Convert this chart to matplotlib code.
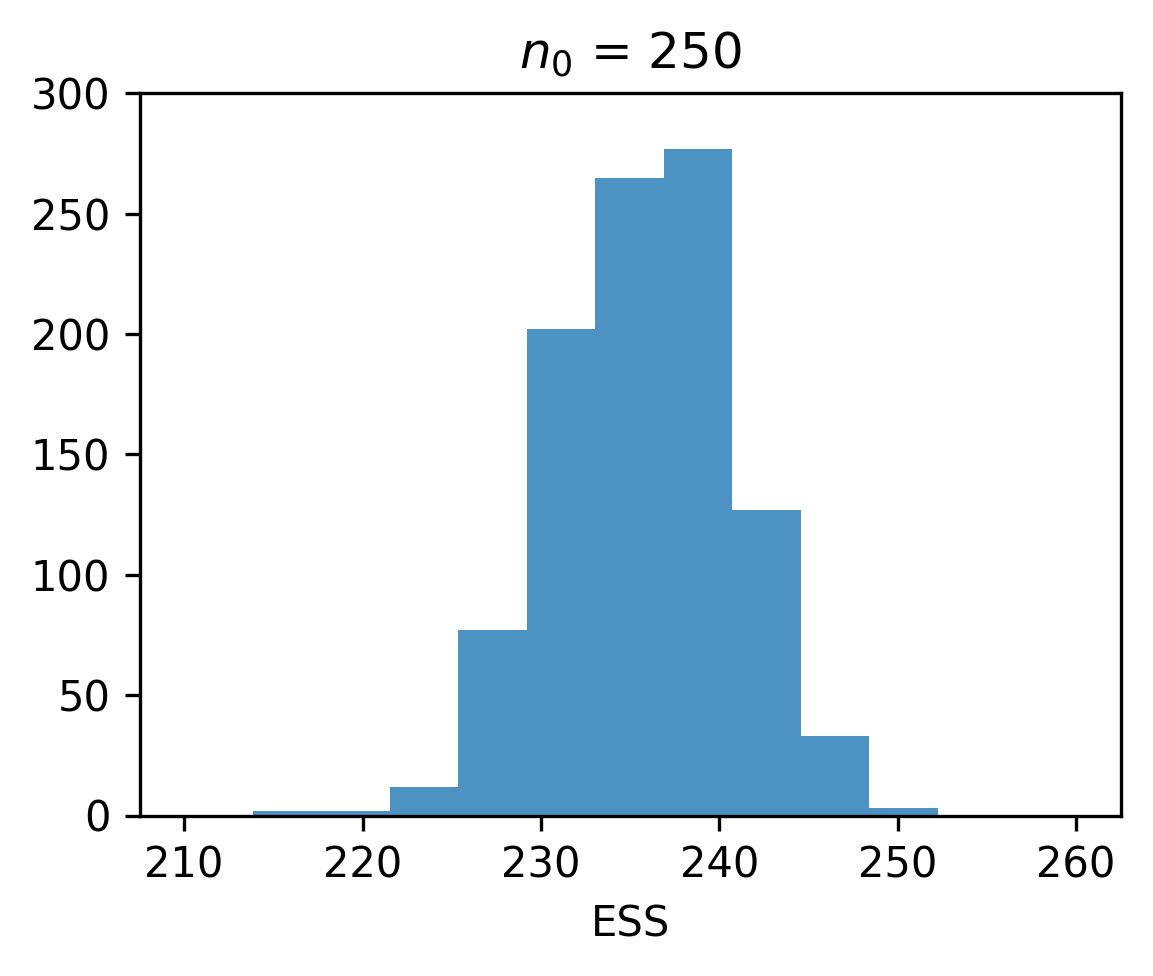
import numpy as np
import matplotlib
matplotlib.use("Agg")
import matplotlib.pyplot as plt

# Histogram data
bin_edges = [213.85, 217.69, 221.53, 225.37, 229.21, 233.05, 236.89, 240.73, 244.57, 248.41, 252.25]
counts = [2, 2, 12, 77, 202, 265, 277, 127, 33, 3]
title = "$n_0$ = 250"
xlabel = "ESS"

edges = np.array(bin_edges)
centers = (edges[:-1] + edges[1:]) / 2

fig = plt.figure(figsize=(1153 / 300, 976 / 300), dpi=300)
ax = fig.add_axes([139.5 / 1153, 1 - 815.5 / 976, (1120.7 - 139.5) / 1153, (815.5 - 93.3) / 976])
ax.hist(centers, bins=edges, weights=counts, color="tab:blue", alpha=0.8)
ax.set_xlim(207.5, 262.5)
ax.set_ylim(0, 300)
ax.set_title(title)
ax.set_xlabel(xlabel)
fig.savefig("out.png", dpi=300)
